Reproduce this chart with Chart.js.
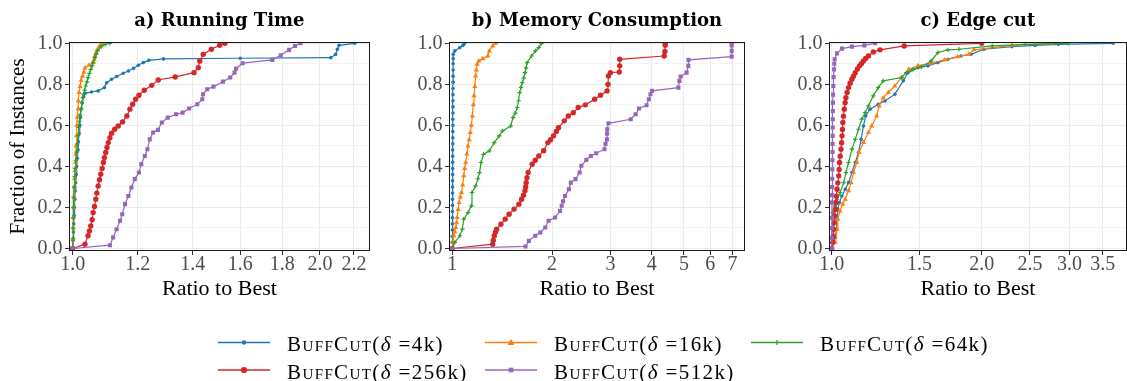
<!DOCTYPE html>
<html>
<head>
<meta charset="utf-8">
<script src="https://cdn.jsdelivr.net/npm/chart.js@4.4.0/dist/chart.umd.min.js"></script>
<style>
html, body { margin: 0; padding: 0; background: #fff; overflow: hidden; width: 1127px; height: 381px; }
canvas { position: absolute; }
</style>
</head>
<body>
<canvas id="c1" width="375" height="310" style="left:0;top:0"></canvas>
<canvas id="c2" width="375" height="310" style="left:375px;top:0"></canvas>
<canvas id="c3" width="382" height="310" style="left:750px;top:0"></canvas>
<canvas id="lg" width="1127" height="71" style="left:0;top:310px"></canvas>
<script>
// series: buffer sizes
var seriesNames  = ["4k", "16k", "64k", "256k", "512k"];
var seriesColors = ["#1f77b4", "#ff7f0e", "#2ca02c", "#d62728", "#9467bd"];
var seriesShapes = ["circle", "triangle", "cross", "circle", "rect"];
var seriesRadius = [1.8, 3, 2.2, 2.7, 2.9];

var yTicks = [0, 0.1, 0.2, 0.3, 0.4, 0.5, 0.6, 0.7, 0.8, 0.9, 1.0];
var yTickLabels = ["0.0", "", "0.2", "", "0.4", "", "0.6", "", "0.8", "", "1.0"];

var timeTicks = [1.0, 1.2, 1.4, 1.6, 1.8, 2.0, 2.2];
var timeTickLabels = ["1.0", "1.2", "1.4", "1.6", "1.8", "2.0", "2.2"];
var memTicks = [1, 2, 3, 4, 5, 6, 7];
var memTickLabels = ["1", "2", "3", "4", "5", "6", "7"];
var cutTicks = [1.0, 1.5, 2.0, 2.5, 3.0, 3.5];
var cutTickLabels = ["1.0", "1.5", "2.0", "2.5", "3.0", "3.5"];

// a) running time  [ratio, fraction]
var time4k = [[1.0,0],[1.001,0.04],[1.002,0.08],[1.003,0.12],[1.004,0.16],[1.005,0.2],[1.006,0.24],[1.007,0.28],[1.008,0.32],[1.010,0.36],[1.011,0.4],[1.013,0.44],[1.015,0.48],[1.016,0.52],[1.018,0.56],[1.020,0.6],[1.022,0.64],[1.024,0.68],[1.027,0.71],[1.031,0.74],[1.036,0.756],[1.054,0.763],[1.074,0.768],[1.093,0.784],[1.1,0.808],[1.115,0.825],[1.131,0.838],[1.152,0.854],[1.169,0.865],[1.186,0.878],[1.202,0.893],[1.219,0.906],[1.238,0.917],[1.29,0.924],[1.6,0.927],[2.062,0.93],[2.09,0.946],[2.10,0.971],[2.11,0.99],[2.205,1.0]];
var time16k = [[1.0,0],[1.001,0.05],[1.002,0.1],[1.002,0.15],[1.003,0.2],[1.004,0.25],[1.005,0.3],[1.006,0.34],[1.007,0.38],[1.008,0.42],[1.009,0.46],[1.0095,0.5],[1.011,0.55],[1.012,0.6],[1.013,0.64],[1.015,0.68],[1.016,0.72],[1.018,0.76],[1.021,0.79],[1.024,0.82],[1.028,0.84],[1.032,0.86],[1.035,0.88],[1.047,0.893],[1.059,0.906],[1.062,0.92],[1.064,0.938],[1.068,0.955],[1.072,0.971],[1.078,0.985],[1.083,0.995],[1.086,1.0]];
var time64k = [[1.0,0],[1.001,0.05],[1.001,0.1],[1.002,0.15],[1.002,0.2],[1.003,0.25],[1.004,0.3],[1.006,0.35],[1.007,0.39],[1.009,0.43],[1.011,0.47],[1.013,0.51],[1.015,0.55],[1.017,0.59],[1.019,0.62],[1.021,0.65],[1.024,0.68],[1.026,0.71],[1.029,0.735],[1.031,0.752],[1.034,0.772],[1.037,0.792],[1.041,0.812],[1.044,0.833],[1.048,0.853],[1.052,0.873],[1.056,0.89],[1.059,0.906],[1.064,0.93],[1.068,0.946],[1.072,0.963],[1.083,0.984],[1.095,0.995],[1.11,1.0]];
var time256k = [[1.0,0],[1.035,0.021],[1.044,0.062],[1.048,0.085],[1.052,0.11],[1.056,0.14],[1.059,0.175],[1.063,0.205],[1.067,0.24],[1.070,0.27],[1.074,0.305],[1.078,0.335],[1.082,0.362],[1.086,0.39],[1.09,0.419],[1.093,0.443],[1.097,0.468],[1.101,0.492],[1.105,0.516],[1.110,0.54],[1.115,0.562],[1.125,0.581],[1.136,0.597],[1.15,0.617],[1.164,0.646],[1.174,0.679],[1.183,0.703],[1.193,0.727],[1.204,0.747],[1.222,0.771],[1.248,0.795],[1.271,0.821],[1.333,0.836],[1.405,0.857],[1.422,0.881],[1.428,0.914],[1.442,0.946],[1.475,0.971],[1.51,0.99],[1.532,1.0]];
var time512k = [[1.0,0],[1.11,0.016],[1.12,0.054],[1.131,0.094],[1.142,0.135],[1.149,0.167],[1.158,0.216],[1.169,0.256],[1.179,0.297],[1.19,0.338],[1.204,0.37],[1.212,0.411],[1.224,0.451],[1.233,0.484],[1.241,0.532],[1.253,0.565],[1.27,0.578],[1.284,0.614],[1.305,0.638],[1.336,0.654],[1.361,0.662],[1.386,0.682],[1.418,0.703],[1.438,0.727],[1.441,0.752],[1.458,0.776],[1.484,0.789],[1.524,0.813],[1.555,0.833],[1.574,0.857],[1.581,0.877],[1.61,0.903],[1.75,0.919],[1.792,0.942],[1.834,0.968],[1.865,0.987],[1.894,1.0]];

// b) memory consumption
var mem4k = [[1.0,0],[1.0,0.03],[1.0,0.06],[1.001,0.09],[1.001,0.12],[1.001,0.15],[1.001,0.18],[1.002,0.21],[1.002,0.24],[1.002,0.27],[1.002,0.3],[1.002,0.33],[1.003,0.36],[1.003,0.39],[1.003,0.42],[1.003,0.45],[1.003,0.48],[1.004,0.51],[1.004,0.54],[1.004,0.57],[1.004,0.6],[1.004,0.63],[1.005,0.66],[1.005,0.69],[1.005,0.72],[1.005,0.75],[1.005,0.78],[1.006,0.81],[1.006,0.84],[1.006,0.87],[1.006,0.9],[1.007,0.925],[1.007,0.946],[1.018,0.963],[1.054,0.979],[1.078,0.99],[1.09,1.0]];
var mem16k = [[1.0,0],[1.005,0.03],[1.011,0.062],[1.018,0.08],[1.025,0.102],[1.03,0.125],[1.035,0.151],[1.042,0.19],[1.049,0.224],[1.057,0.25],[1.066,0.273],[1.075,0.31],[1.083,0.354],[1.09,0.39],[1.098,0.419],[1.107,0.46],[1.116,0.5],[1.125,0.53],[1.134,0.565],[1.142,0.6],[1.15,0.646],[1.157,0.7],[1.163,0.744],[1.17,0.79],[1.176,0.841],[1.182,0.87],[1.19,0.898],[1.203,0.914],[1.236,0.925],[1.28,0.938],[1.294,0.963],[1.324,0.987],[1.352,1.0]];
var mem64k = [[1.0,0],[1.018,0.03],[1.054,0.062],[1.073,0.094],[1.083,0.143],[1.116,0.175],[1.142,0.208],[1.147,0.273],[1.176,0.305],[1.195,0.34],[1.209,0.37],[1.222,0.419],[1.242,0.459],[1.294,0.476],[1.339,0.516],[1.386,0.549],[1.418,0.573],[1.501,0.597],[1.525,0.638],[1.55,0.66],[1.571,0.687],[1.585,0.72],[1.597,0.76],[1.612,0.785],[1.627,0.808],[1.642,0.83],[1.657,0.857],[1.67,0.88],[1.683,0.906],[1.734,0.938],[1.782,0.963],[1.824,0.979],[1.86,1.0]];
var mem256k = [[1.0,0],[1.324,0.021],[1.33,0.04],[1.339,0.062],[1.35,0.08],[1.361,0.094],[1.402,0.118],[1.444,0.143],[1.484,0.167],[1.536,0.192],[1.589,0.216],[1.619,0.24],[1.64,0.26],[1.657,0.281],[1.665,0.3],[1.671,0.321],[1.68,0.345],[1.694,0.37],[1.742,0.411],[1.78,0.43],[1.824,0.451],[1.887,0.476],[1.943,0.516],[1.98,0.53],[2.021,0.549],[2.06,0.57],[2.091,0.589],[2.178,0.622],[2.239,0.646],[2.317,0.662],[2.399,0.687],[2.52,0.70],[2.689,0.727],[2.801,0.747],[2.931,0.768],[2.95,0.80],[2.959,0.841],[3.0,0.857],[3.19,0.86],[3.2,0.89],[3.2,0.922],[4.36,0.938],[4.38,0.96],[4.39,0.99],[4.39,1.0]];
var mem512k = [[1.0,0],[1.664,0.01],[1.702,0.037],[1.78,0.062],[1.843,0.078],[1.908,0.102],[1.953,0.135],[2.043,0.151],[2.114,0.183],[2.139,0.208],[2.16,0.23],[2.189,0.256],[2.249,0.289],[2.279,0.321],[2.354,0.338],[2.423,0.37],[2.451,0.403],[2.538,0.432],[2.62,0.451],[2.718,0.464],[2.879,0.484],[2.9,0.51],[2.93,0.532],[2.931,0.56],[2.935,0.581],[2.959,0.61],[3.454,0.63],[3.575,0.654],[3.66,0.682],[3.855,0.698],[3.918,0.727],[3.962,0.752],[4.008,0.768],[4.81,0.784],[4.845,0.817],[4.889,0.838],[5.094,0.857],[5.154,0.89],[5.16,0.919],[6.966,0.935],[6.966,0.963],[6.966,0.99],[6.97,1.0]];

// c) edge cut
var cut4k = [[1.0,0],[1.017,0.054],[1.023,0.094],[1.025,0.143],[1.028,0.192],[1.036,0.224],[1.048,0.256],[1.065,0.289],[1.081,0.321],[1.098,0.37],[1.115,0.419],[1.132,0.468],[1.146,0.532],[1.158,0.597],[1.17,0.646],[1.194,0.679],[1.24,0.703],[1.279,0.719],[1.339,0.752],[1.392,0.817],[1.423,0.857],[1.49,0.881],[1.56,0.89],[1.633,0.906],[1.711,0.922],[1.818,0.938],[1.903,0.946],[2.02,0.971],[2.3,0.984],[2.56,0.99],[2.85,0.995],[3.67,1.0]];
var cut16k = [[1.0,0],[1.017,0.03],[1.025,0.094],[1.029,0.143],[1.04,0.183],[1.052,0.216],[1.065,0.24],[1.081,0.281],[1.094,0.321],[1.106,0.37],[1.123,0.419],[1.135,0.468],[1.158,0.516],[1.185,0.565],[1.203,0.597],[1.231,0.646],[1.245,0.695],[1.269,0.735],[1.299,0.76],[1.339,0.792],[1.381,0.833],[1.428,0.873],[1.49,0.89],[1.584,0.903],[1.684,0.919],[1.79,0.935],[1.886,0.946],[1.93,0.968],[2.3,0.99],[2.76,1.0]];
var cut64k = [[1.0,0],[1.0015,0.094],[1.0046,0.175],[1.014,0.208],[1.025,0.24],[1.04,0.273],[1.057,0.321],[1.068,0.37],[1.081,0.419],[1.098,0.484],[1.115,0.532],[1.132,0.581],[1.149,0.63],[1.167,0.662],[1.185,0.695],[1.212,0.744],[1.24,0.784],[1.269,0.817],[1.381,0.833],[1.412,0.857],[1.457,0.873],[1.514,0.886],[1.584,0.914],[1.633,0.955],[1.711,0.968],[1.8,0.971],[2.1,0.987],[2.445,0.995],[2.98,1.0]];
var cut256k = [[1.0,0],[1.0046,0.03],[1.007,0.06],[1.009,0.094],[1.011,0.125],[1.014,0.159],[1.017,0.19],[1.02,0.224],[1.022,0.255],[1.025,0.289],[1.029,0.32],[1.033,0.354],[1.035,0.385],[1.037,0.419],[1.04,0.45],[1.044,0.484],[1.047,0.515],[1.049,0.549],[1.051,0.58],[1.053,0.614],[1.056,0.645],[1.06,0.679],[1.064,0.71],[1.068,0.735],[1.074,0.76],[1.081,0.784],[1.089,0.805],[1.098,0.825],[1.106,0.84],[1.115,0.857],[1.126,0.875],[1.137,0.89],[1.147,0.9],[1.158,0.914],[1.17,0.926],[1.185,0.938],[1.212,0.958],[1.25,0.968],[1.398,0.987],[2.0,1.0]];
var cut512k = [[1.0,0],[1.0005,0.05],[1.0008,0.1],[1.001,0.15],[1.0015,0.224],[1.0018,0.26],[1.002,0.3],[1.0025,0.34],[1.003,0.386],[1.0035,0.43],[1.004,0.47],[1.0042,0.51],[1.0046,0.549],[1.0048,0.59],[1.005,0.63],[1.0055,0.67],[1.006,0.711],[1.0068,0.75],[1.0077,0.792],[1.009,0.835],[1.011,0.873],[1.012,0.9],[1.014,0.922],[1.025,0.951],[1.049,0.974],[1.098,0.984],[1.163,0.99],[1.222,1.0]];

var serifFont = "'Liberation Serif', serif";
var tickFont = { family: serifFont, size: 20, lineHeight: 1 };
var xTitleFont = { family: serifFont, size: 22, lineHeight: 1.2 };
var yTitleFont = { family: serifFont, size: 21, lineHeight: 1.2 };
var panelTitleFont = { family: "'DejaVu Serif', serif", size: 18, weight: "bold", lineHeight: 1.2 };

var framePlugin = {
	id: "frame",
	afterDatasetsDraw: function (chart) {
		var a = chart.chartArea, c = chart.ctx;
		c.save();
		c.strokeStyle = "#1a1a1a";
		c.lineWidth = 1;
		c.strokeRect(Math.round(a.left) + 0.5, Math.round(a.top) + 0.5,
			Math.round(a.right - a.left) - 1, Math.round(a.bottom - a.top) - 1);
		c.restore();
	}
};

function buildDatasets(list) {
	return list.map(function (pts, i) {
		return {
			label: "BuffCut(δ =" + seriesNames[i] + ")",
			data: pts.map(function (p) { return { x: p[0], y: p[1] }; }),
			borderColor: seriesColors[i],
			backgroundColor: seriesColors[i],
			borderWidth: 1.2,
			pointStyle: seriesShapes[i],
			pointRadius: seriesRadius[i],
			pointBackgroundColor: seriesColors[i],
			pointBorderColor: seriesColors[i],
			pointBorderWidth: seriesShapes[i] === "cross" ? 1.2 : 0,
			showLine: true,
			tension: 0,
			order: 5 - i
		};
	});
}

function makePanel(id, p) {
	return new Chart(document.getElementById(id), {
		type: "scatter",
		data: { datasets: buildDatasets(p.series) },
		options: {
			responsive: false,
			animation: false,
			events: [],
			layout: { padding: { left: 0, right: p.padRight, top: 0, bottom: 0 } },
			plugins: {
				legend: { display: false },
				tooltip: { enabled: false },
				title: {
					display: true, text: p.title, fullSize: false, color: "#000",
					font: panelTitleFont, padding: { top: 10.3, bottom: 10.1 }
				}
			},
			scales: {
				x: {
					type: "logarithmic", min: p.xmin, max: p.xmax,
					afterFit: function (s) { s.height = 59; },
					afterBuildTicks: function (s) { s.ticks = p.ticks.map(function (v) { return { value: v }; }); },
					ticks: {
						autoSkip: false, maxRotation: 0, minRotation: 0, padding: 0,
						color: "#4d4d4d", font: tickFont,
						callback: function (v, i) { return p.tickLabels[i]; }
					},
					grid: { color: "#ebebeb", lineWidth: 1, tickColor: "#333", tickLength: 4 },
					border: { display: false },
					title: { display: true, text: "Ratio to Best", color: "#000", font: xTitleFont, padding: { top: 0, bottom: 7.3 } }
				},
				y: {
					type: "linear", min: -0.0122, max: 1.0063,
					afterFit: function (s) { s.width = p.yWidth; },
					afterBuildTicks: function (s) { s.ticks = yTicks.map(function (v) { return { value: v }; }); },
					ticks: {
						autoSkip: false, padding: 2.5, color: "#4d4d4d", font: tickFont,
						callback: function (v, i) { return yTickLabels[i]; }
					},
					grid: {
						lineWidth: 1, tickLength: 4,
						color: function (c) { return c.index % 2 ? "#f3f3f3" : "#ebebeb"; },
						tickColor: function (c) { return c.index % 2 ? "rgba(0,0,0,0)" : "#333"; }
					},
					border: { display: false },
					title: { display: p.yTitle, text: "Fraction of Instances", color: "#000", font: yTitleFont, padding: { top: 5.8, bottom: 0 } }
				}
			}
		},
		plugins: [framePlugin]
	});
}

makePanel("c1", { title: "a) Running Time", series: [time4k, time16k, time64k, time256k, time512k],
	xmin: 0.9897, xmax: 2.30, ticks: timeTicks, tickLabels: timeTickLabels, yWidth: 69, padRight: 5, yTitle: true });
makePanel("c2", { title: "b) Memory Consumption", series: [mem4k, mem16k, mem64k, mem256k, mem512k],
	xmin: 0.9777, xmax: 7.63, ticks: memTicks, tickLabels: memTickLabels, yWidth: 74, padRight: 1, yTitle: false });
makePanel("c3", { title: "c) Edge cut", series: [cut4k, cut16k, cut64k, cut256k, cut512k],
	xmin: 0.9877, xmax: 3.91, ticks: cutTicks, tickLabels: cutTickLabels, yWidth: 79, padRight: 2, yTitle: false });

// legend
var legendCols = [218, 485, 751];
var legendRows = [32.5, 60];

function drawMarker(ctx, shape, x, y, r, color) {
	ctx.fillStyle = color; ctx.strokeStyle = color;
	ctx.beginPath();
	if (shape === "circle") {
		ctx.arc(x, y, r, 0, Math.PI * 2); ctx.fill();
	} else if (shape === "triangle") {
		ctx.moveTo(x, y - r * 1.1); ctx.lineTo(x + r, y + r * 0.7); ctx.lineTo(x - r, y + r * 0.7); ctx.closePath(); ctx.fill();
	} else if (shape === "rect") {
		var s = r * 1.41; ctx.fillRect(x - s / 2, y - s / 2, s, s);
	} else {
		ctx.lineWidth = 1.2;
		ctx.moveTo(x - r, y); ctx.lineTo(x + r, y); ctx.moveTo(x, y - r); ctx.lineTo(x, y + r); ctx.stroke();
	}
}

var legendPlugin = {
	id: "bcLegend",
	afterDraw: function (chart) {
		var ctx = chart.ctx;
		ctx.save();
		ctx.textBaseline = "alphabetic";
		ctx.textAlign = "left";
		if ("letterSpacing" in ctx) ctx.letterSpacing = "1.4px";
		seriesNames.forEach(function (name, i) {
			var x0 = legendCols[i % 3], y = legendRows[Math.floor(i / 3)];
			ctx.strokeStyle = seriesColors[i];
			ctx.lineWidth = 1.5;
			ctx.beginPath(); ctx.moveTo(x0, y); ctx.lineTo(x0 + 52, y); ctx.stroke();
			drawMarker(ctx, seriesShapes[i], x0 + 26, y, seriesRadius[i] + 0.4, seriesColors[i]);
			var tx = x0 + 69, by = y + 8.5;
			ctx.fillStyle = "#000";
			ctx.font = "small-caps 21px " + serifFont;
			if ("fontVariantCaps" in ctx) ctx.fontVariantCaps = "small-caps";
			ctx.fillText("BuffCut", tx, by);
			tx += ctx.measureText("BuffCut").width;
			if ("fontVariantCaps" in ctx) ctx.fontVariantCaps = "normal";
			ctx.font = "21px " + serifFont;
			ctx.fillText("(", tx, by); tx += ctx.measureText("(").width;
			ctx.font = "italic 21px " + serifFont;
			ctx.fillText("δ", tx, by); tx += ctx.measureText("δ").width;
			ctx.font = "21px " + serifFont;
			ctx.fillText(" =" + name + ")", tx, by);
		});
		ctx.restore();
	}
};

new Chart(document.getElementById("lg"), {
	type: "scatter",
	data: { datasets: [] },
	options: {
		responsive: false, animation: false, events: [],
		plugins: { legend: { display: false }, tooltip: { enabled: false } },
		scales: { x: { display: false }, y: { display: false } }
	},
	plugins: [legendPlugin]
});
</script>
</body>
</html>
